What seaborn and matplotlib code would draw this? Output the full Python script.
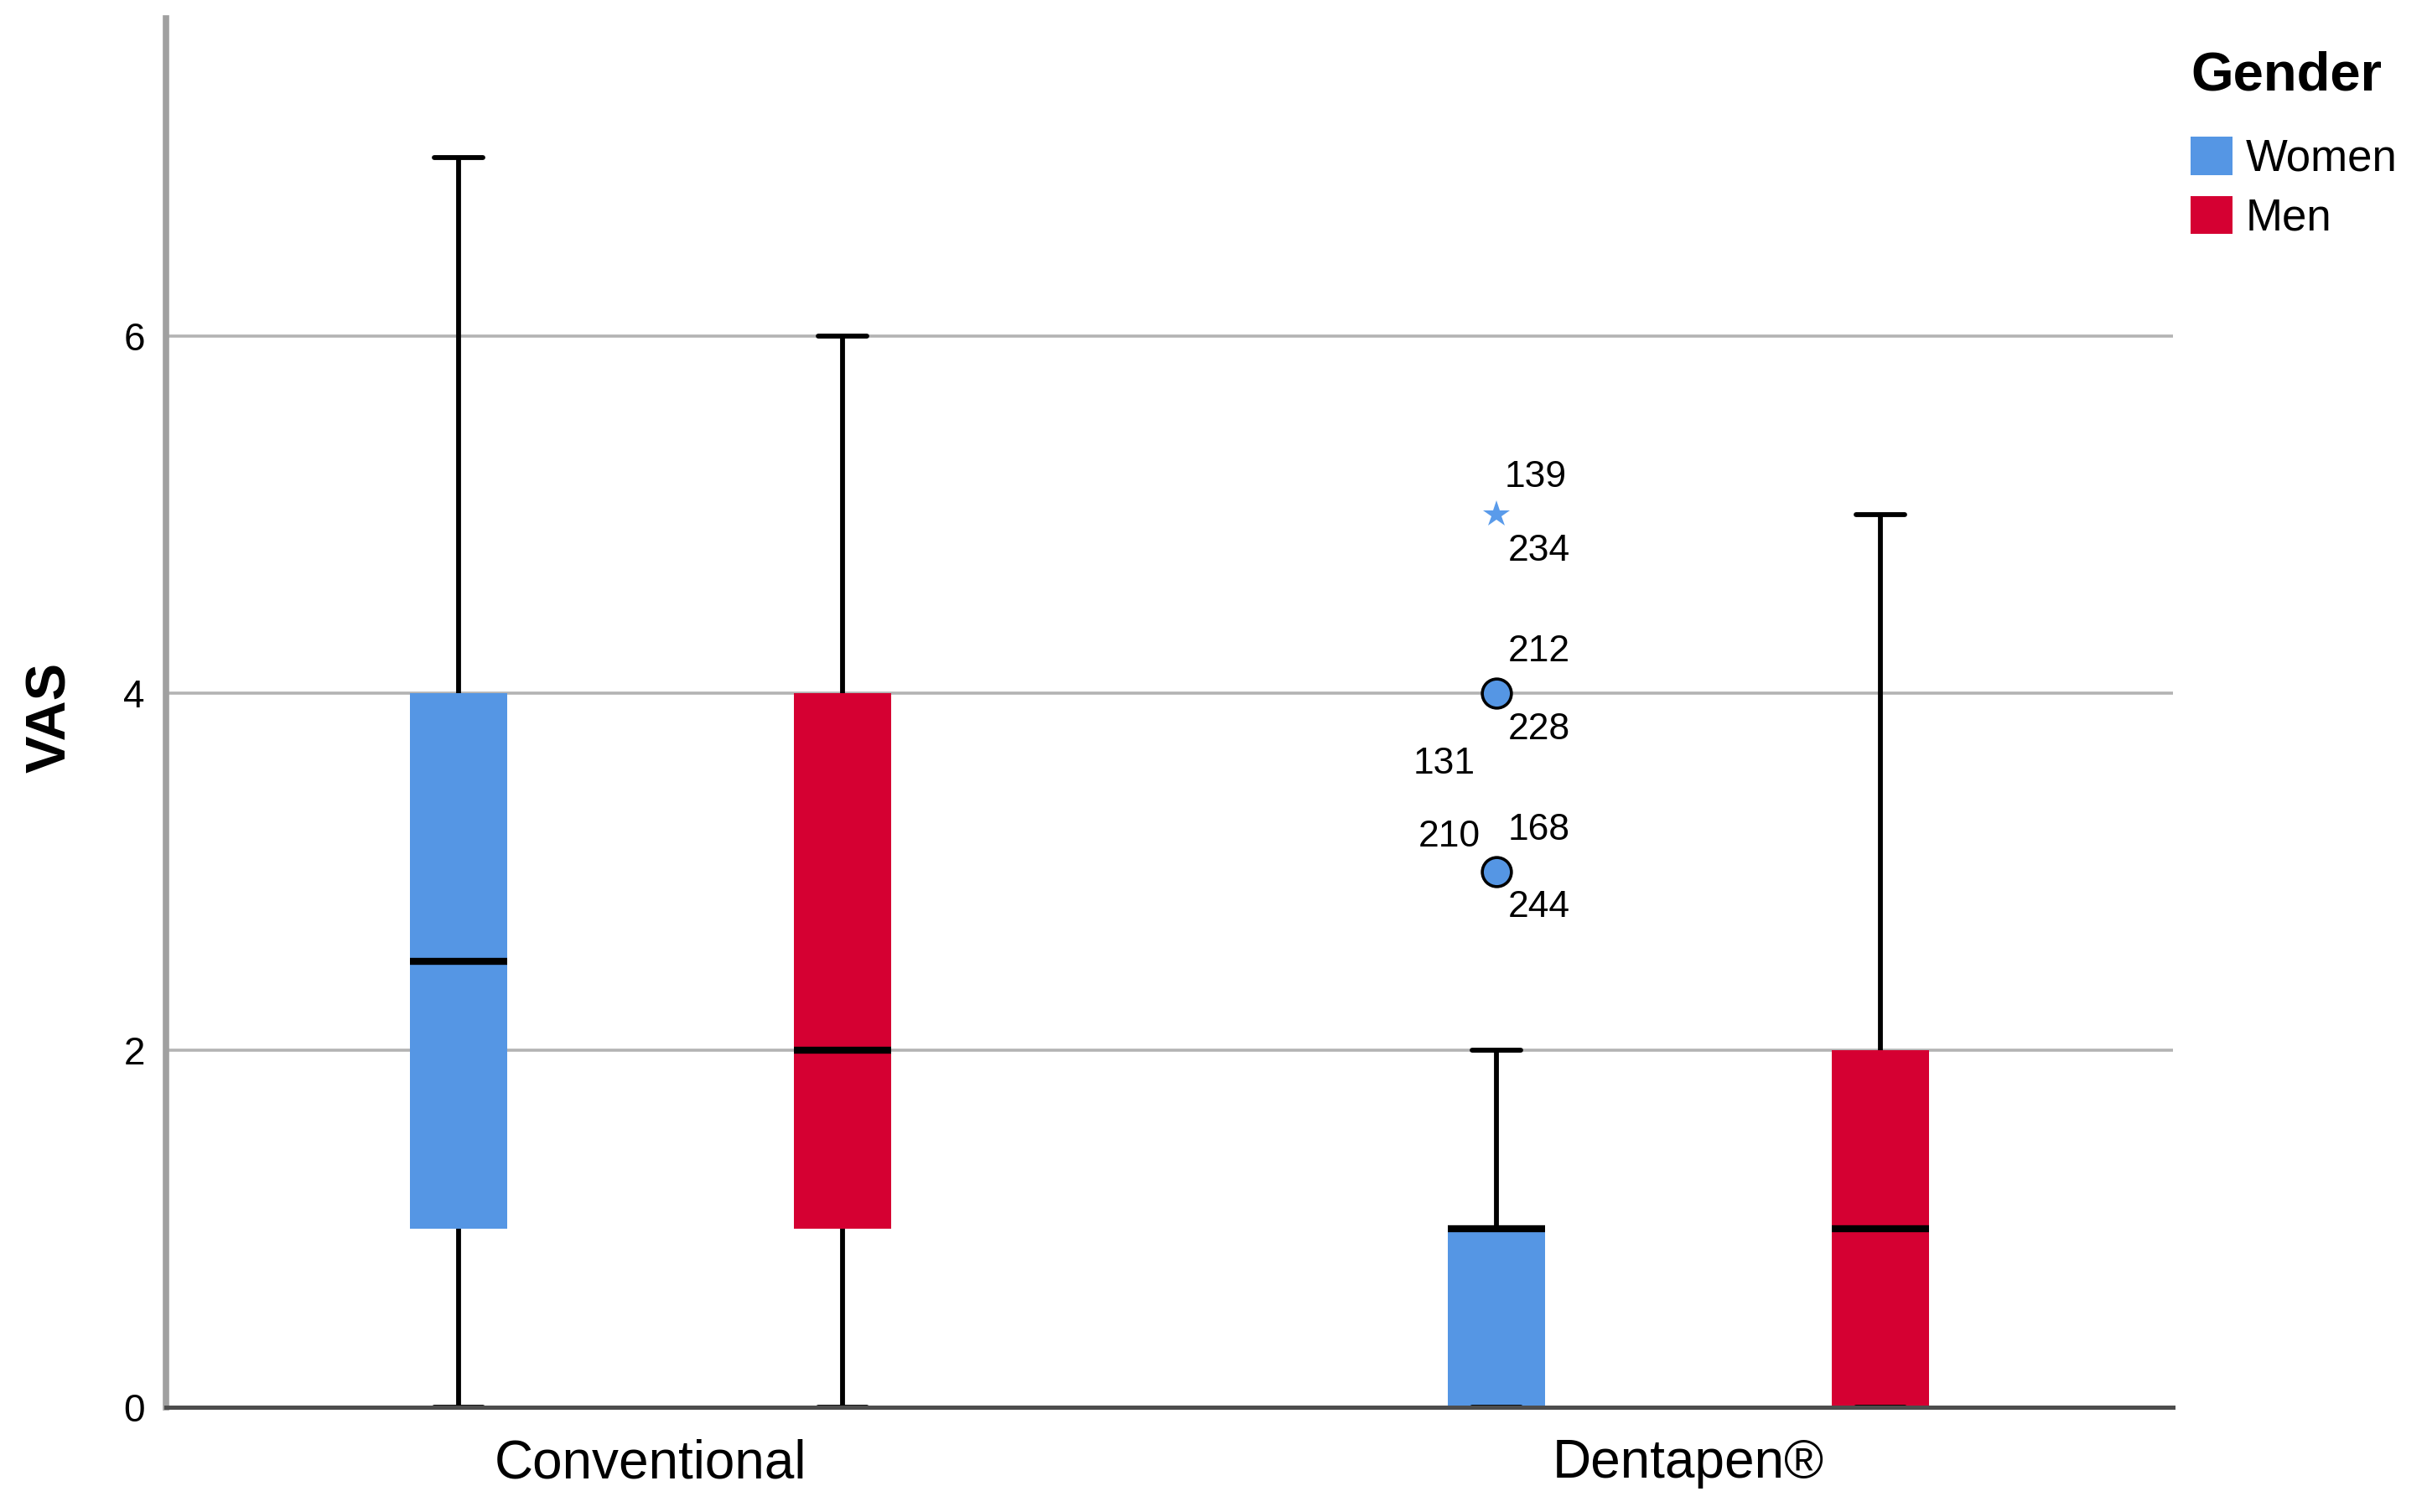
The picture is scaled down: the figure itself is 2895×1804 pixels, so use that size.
import numpy as np
import pandas as pd
import matplotlib
matplotlib.use("Agg")
import matplotlib.pyplot as plt
from matplotlib.patches import Patch
import seaborn as sns

# ---------------- data ----------------
techniques = ["Conventional", "Dentapen®"]
genders = ["Women", "Men"]
box_technique = ["Conventional", "Conventional", "Dentapen®", "Dentapen®"]
box_gender = ["Women", "Men", "Women", "Men"]
whisker_low = [0, 0, 0, 0]
q1 = [1, 1, 0, 0]
median = [2.5, 2, 1, 1]
q3 = [4, 4, 1, 2]
whisker_high = [7, 6, 2, 5]

# outliers (Dentapen®, Women)
outlier_technique = "Dentapen®"
outlier_gender = "Women"
outlier_values = [5, 4, 3]
outlier_kind = ["extreme", "outlier", "outlier"]
outlier_ids = [["139", "234"], ["212", "228", "131"], ["168", "210", "244"]]

# ---------------- style ----------------
palette = {"Women": "#5596E4", "Men": "#D50032"}
star_color = "#5A9BEA"
BOX_WIDTH = 0.74
GAP = 0.747
# label offsets in pixels (dx, dy up, ha) per case id
label_layout = {
    "139": (10, 45, "left"), "234": (14, -43, "left"),
    "212": (14, 50, "left"), "228": (14, -43, "left"), "131": (-25, -84, "right"),
    "168": (14, 50, "left"), "210": (-19, 42, "right"), "244": (14, -42, "left"),
}

sns.set_style("white")
plt.rcParams["font.family"] = ["Liberation Sans", "DejaVu Sans"]
plt.rcParams["text.color"] = "black"
plt.rcParams["axes.labelcolor"] = "black"
plt.rcParams["xtick.color"] = "black"
plt.rcParams["ytick.color"] = "black"

rows = []
for t, g, lo, a, m, b, hi in zip(box_technique, box_gender, whisker_low, q1, median, q3, whisker_high):
    for v in (lo, a, m, b, hi):
        rows.append({"Technique": t, "Gender": g, "VAS": v})
df = pd.DataFrame(rows)

W, H = 2895, 1804
fig = plt.figure(figsize=(W / 100, H / 100), dpi=100)
ax = fig.add_axes([198 / W, 1 - 1679 / H, (2592 - 198) / W, (1679 - 22) / H])

sns.boxplot(
    data=df, x="Technique", y="VAS", hue="Gender",
    order=techniques, hue_order=genders, palette=palette,
    width=BOX_WIDTH, gap=GAP, dodge=True, showfliers=False,
    saturation=1, linecolor="black", linewidth=4.2,
    boxprops=dict(edgecolor="none", linewidth=0),
    medianprops=dict(color="black", linewidth=6),
    whiskerprops=dict(color="black", linewidth=4.2),
    capprops=dict(color="black", linewidth=4.2),
    legend=False, ax=ax, zorder=2,
)

# outliers at the dodged position of their box
xi = techniques.index(outlier_technique)
hoff = (genders.index(outlier_gender) - (len(genders) - 1) / 2) * BOX_WIDTH / len(genders)
xpos = xi + hoff
for v, kind, ids in zip(outlier_values, outlier_kind, outlier_ids):
    if kind == "extreme":
        ax.plot([xpos], [v], marker="*", markersize=24, color=star_color,
                markeredgewidth=0, linestyle="none", zorder=4)
    else:
        ax.plot([xpos], [v], marker="o", markersize=25, markerfacecolor=palette[outlier_gender],
                markeredgecolor="black", markeredgewidth=2.6, linestyle="none", zorder=4)
    for cid in ids:
        dx, dy, ha = label_layout[cid]
        ax.annotate(cid, xy=(xpos, v), xytext=(dx, dy), textcoords="offset pixels",
                    ha=ha, va="center", fontsize=32, color="black")

ax.set_xlim(-0.467, 1.467)
ax.set_ylim(0, 7.78)
ax.set_yticks([0, 2, 4, 6])
ax.set_yticklabels(["0", "2", "4", "6"])
ax.tick_params(axis="y", length=0, pad=18, labelsize=33, labelcolor="black")
ax.tick_params(axis="x", length=0, pad=27, labelsize=46, labelcolor="black")
ax.set_xlabel("")
ax.set_ylabel("VAS", fontsize=48, fontweight="bold", color="black")
ax.yaxis.set_label_coords(-0.057, 0.497)
ax.yaxis.label.set_verticalalignment("center")

ax.yaxis.grid(True, color="#b3b3b3", linewidth=2.6)
ax.xaxis.grid(False)
ax.set_axisbelow(True)
for s in ("top", "right"):
    ax.spines[s].set_visible(False)
ax.spines["left"].set_color("#a0a0a0")
ax.spines["left"].set_linewidth(5.5)
ax.spines["bottom"].set_color("#4d4d4d")
ax.spines["bottom"].set_linewidth(3.6)

handles = [Patch(facecolor=palette[g], edgecolor="none", label=g) for g in genders]
leg = fig.legend(handles=handles, title="Gender", loc="upper left",
                 bbox_to_anchor=(2613 / W, 1 - 60 / H), frameon=False,
                 fontsize=38, title_fontproperties={"weight": "bold", "size": 47},
                 handlelength=0.95, handleheight=0.95, handletextpad=0.3,
                 labelspacing=0.36, borderpad=0, borderaxespad=0, alignment="left")
leg._legend_box.sep = 31
leg.get_title().set_color("black")
for t in leg.get_texts():
    t.set_color("black")

fig.savefig("out.png", dpi=100, facecolor="white")
